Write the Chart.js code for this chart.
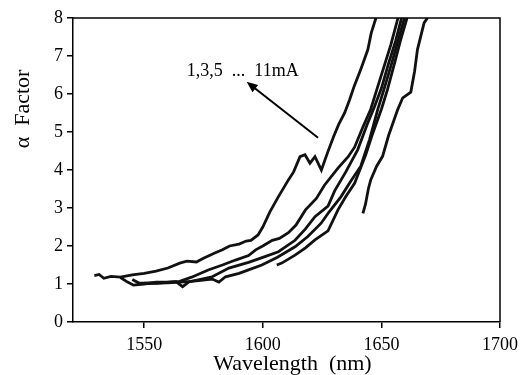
<!DOCTYPE html>
<html>
<head>
<meta charset="utf-8">
<script src="https://cdn.jsdelivr.net/npm/chart.js@4/dist/chart.umd.min.js"></script>
<style>
  html, body { margin: 0; padding: 0; background: #fff; }
  #wrap { width: 524px; height: 375px; position: relative; }
</style>
</head>
<body>
<div id="wrap"><canvas id="alphaChart"></canvas></div>
<script>
// Alpha factor vs wavelength, 1..11 mA
const curveA_wl    = [1529, 1531, 1533, 1536, 1540, 1545, 1550, 1555, 1560, 1565, 1568, 1572, 1575, 1580, 1583, 1586, 1590, 1593, 1595, 1598, 1600, 1603, 1606.6, 1609, 1610.8, 1613, 1615.7, 1617.8, 1619.9, 1622, 1624.7, 1627.5, 1630, 1632, 1634.5, 1636.6, 1638.5, 1641, 1642.2, 1644.3, 1645.7, 1647.7];
const curveA_alpha = [1.22, 1.25, 1.15, 1.2, 1.18, 1.24, 1.28, 1.34, 1.42, 1.55, 1.6, 1.58, 1.68, 1.82, 1.9, 2.0, 2.05, 2.13, 2.15, 2.29, 2.5, 2.9, 3.3, 3.55, 3.74, 3.95, 4.35, 4.4, 4.18, 4.35, 4.0, 4.49, 4.9, 5.2, 5.5, 5.85, 6.2, 6.6, 6.8, 7.17, 7.6, 8.0];

const curveB_wl    = [1540, 1543, 1545.5, 1550, 1555, 1560, 1565, 1570, 1577, 1583, 1588.5, 1594, 1597, 1600, 1604, 1607, 1610.8, 1614, 1618, 1622.6, 1626, 1631.7, 1636, 1638.7, 1642, 1645.5, 1648, 1651.5, 1654, 1657];
const curveB_alpha = [1.17, 1.05, 0.97, 1.0, 1.05, 1.05, 1.07, 1.18, 1.37, 1.5, 1.63, 1.75, 1.9, 2.0, 2.15, 2.2, 2.35, 2.55, 2.95, 3.25, 3.6, 4.05, 4.35, 4.6, 5.1, 5.6, 6.1, 6.8, 7.3, 8.0];

const curveC_wl    = [1545, 1548, 1555, 1563.4, 1566.2, 1569, 1578.7, 1585.7, 1594, 1600, 1606.6, 1613.6, 1618, 1622, 1627.5, 1630.3, 1635, 1640, 1644, 1647, 1650, 1653, 1656, 1658.5];
const curveC_alpha = [1.12, 1.02, 1.02, 1.06, 0.93, 1.06, 1.19, 1.42, 1.57, 1.7, 1.85, 2.15, 2.45, 2.77, 3.05, 3.45, 3.95, 4.53, 5.2, 5.65, 6.15, 6.8, 7.4, 8.0];

const curveD_wl    = [1550, 1560, 1570, 1578.7, 1581.5, 1584.3, 1590, 1594, 1599.6, 1606, 1613.6, 1619, 1624.6, 1628, 1633, 1637, 1641.3, 1645, 1648.5, 1651, 1654.3, 1657, 1659.7];
const curveD_alpha = [1.02, 1.03, 1.07, 1.13, 1.05, 1.19, 1.28, 1.37, 1.5, 1.7, 1.98, 2.25, 2.6, 2.9, 3.3, 3.7, 4.1, 4.8, 5.6, 6.1, 6.8, 7.4, 8.0];

const curveE_wl    = [1605.9, 1608, 1613.6, 1618, 1622, 1627.5, 1631.7, 1635, 1638.7, 1643.4, 1646, 1650, 1652.5, 1655.5, 1658, 1660.8];
const curveE_alpha = [1.5, 1.55, 1.76, 1.95, 2.16, 2.4, 2.95, 3.3, 3.65, 4.4, 4.9, 5.6, 6.1, 6.8, 7.4, 8.0];

const curveF_wl    = [1642.2, 1643.3, 1644.5, 1645.5, 1648, 1650.5, 1653, 1656.8, 1659, 1662.4, 1664, 1665.2, 1668, 1669.4];
const curveF_alpha = [2.86, 3.1, 3.5, 3.74, 4.1, 4.36, 4.9, 5.58, 5.9, 6.05, 6.6, 7.17, 7.87, 8.0];

const xTicks = [1550, 1600, 1650, 1700];
const yTicks = [0, 1, 2, 3, 4, 5, 6, 7, 8];

// annotation: text anchor and arrow tail/head in data units
const noteText = '1,3,5  ...  11mA';
const notePos = [1568, 6.59];
const arrowTail = [1623.3, 4.85];
const arrowHead = [1593.2, 6.32];

const SERIF = '"Liberation Serif", "Times New Roman", serif';

function zip(xs, ys) {
    return xs.map((x, i) => ({ x: x, y: ys[i] }));
}

function curve(xs, ys) {
    return {
        data: zip(xs, ys),
        borderColor: '#111',
        borderWidth: 2.8,
        pointRadius: 0,
        tension: 0,
        fill: false
    };
}

// frame on top/right, axis titles and the arrow note
const extrasPlugin = {
    id: 'extras',
    afterDraw(chart) {
        const ctx = chart.ctx;
        const a = chart.chartArea;
        const xs = chart.scales.x;
        const ys = chart.scales.y;

        ctx.save();
        ctx.strokeStyle = '#000';
        ctx.lineWidth = 1.5;
        ctx.beginPath();
        ctx.moveTo(a.left, a.top);
        ctx.lineTo(a.right, a.top);
        ctx.lineTo(a.right, a.bottom);
        ctx.stroke();

        ctx.fillStyle = '#000';
        ctx.font = '22px ' + SERIF;
        ctx.textAlign = 'center';
        ctx.textBaseline = 'middle';
        ctx.fillText('Wavelength  (nm)', (a.left + a.right) / 2 + 6, 364);

        ctx.save();
        ctx.translate(23, 109);
        ctx.rotate(-Math.PI / 2);
        ctx.fillText('\u03b1  Factor', 0, 0);
        ctx.restore();

        // note text
        ctx.font = '18px ' + SERIF;
        ctx.textAlign = 'left';
        ctx.fillText(noteText, xs.getPixelForValue(notePos[0]), ys.getPixelForValue(notePos[1]));

        // arrow
        const tx = xs.getPixelForValue(arrowTail[0]), ty = ys.getPixelForValue(arrowTail[1]);
        const hx = xs.getPixelForValue(arrowHead[0]), hy = ys.getPixelForValue(arrowHead[1]);
        const ang = Math.atan2(hy - ty, hx - tx);
        const len = 11, wid = 4.5;
        ctx.lineWidth = 2;
        ctx.beginPath();
        ctx.moveTo(tx, ty);
        ctx.lineTo(hx - Math.cos(ang) * len * 0.8, hy - Math.sin(ang) * len * 0.8);
        ctx.stroke();
        ctx.beginPath();
        ctx.moveTo(hx, hy);
        ctx.lineTo(hx - Math.cos(ang) * len - Math.sin(ang) * wid, hy - Math.sin(ang) * len + Math.cos(ang) * wid);
        ctx.lineTo(hx - Math.cos(ang) * len + Math.sin(ang) * wid, hy - Math.sin(ang) * len - Math.cos(ang) * wid);
        ctx.closePath();
        ctx.fill();
        ctx.restore();
    }
};

new Chart(document.getElementById('alphaChart'), {
    type: 'line',
    data: {
        datasets: [
            curve(curveA_wl, curveA_alpha),
            curve(curveB_wl, curveB_alpha),
            curve(curveC_wl, curveC_alpha),
            curve(curveD_wl, curveD_alpha),
            curve(curveE_wl, curveE_alpha),
            curve(curveF_wl, curveF_alpha)
        ]
    },
    options: {
        responsive: true,
        maintainAspectRatio: false,
        animation: false,
        layout: { padding: { left: 0, right: 23, top: 18, bottom: 0 } },
        plugins: {
            legend: { display: false },
            tooltip: { enabled: false }
        },
        scales: {
            x: {
                type: 'linear',
                min: 1520,
                max: 1700,
                afterBuildTicks: scale => { scale.ticks = xTicks.map(v => ({ value: v })); },
                afterFit: scale => { scale.height = 53; },
                grid: { drawOnChartArea: false, drawTicks: true, tickLength: 6, color: '#000', lineWidth: 1.5 },
                border: { display: true, color: '#000', width: 1.5 },
                ticks: {
                    color: '#000',
                    font: { family: SERIF, size: 18 },
                    padding: 6,
                    maxRotation: 0,
                    callback: value => String(value)
                }
            },
            y: {
                type: 'linear',
                min: 0,
                max: 8,
                afterBuildTicks: scale => { scale.ticks = yTicks.map(v => ({ value: v })); },
                afterFit: scale => { scale.width = 73; },
                grid: { drawOnChartArea: false, drawTicks: true, tickLength: 6, color: '#000', lineWidth: 1.5 },
                border: { display: true, color: '#000', width: 1.5 },
                ticks: {
                    color: '#000',
                    font: { family: SERIF, size: 18 },
                    padding: 4,
                    callback: value => String(value)
                }
            }
        }
    },
    plugins: [extrasPlugin]
});
</script>
</body>
</html>
